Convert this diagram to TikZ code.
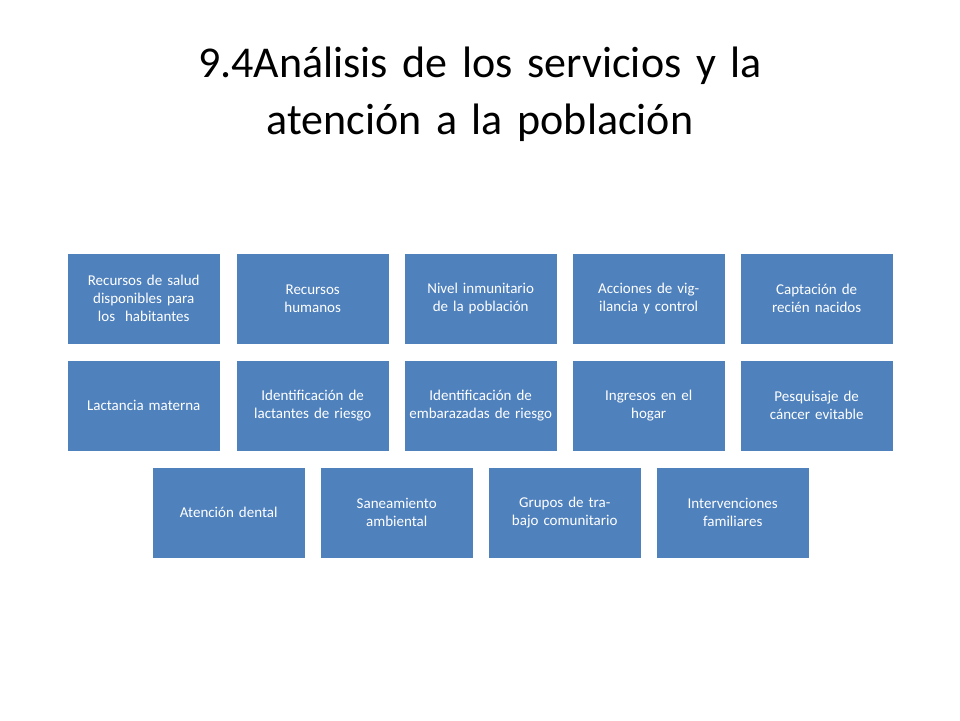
\documentclass[tikz,border=0pt]{standalone}
\usepackage{fontspec}
\setmainfont{Carlito}
\begin{document}
\begin{tikzpicture}[x=1pt,y=-1pt,
  cell/.style={fill=boxblue,draw=boxblue,minimum width=151pt,minimum height=89pt,
    text width=146pt,align=center,text=white,font=\fontsize{15}{18}\selectfont,anchor=north west,inner sep=2pt}]
\definecolor{boxblue}{HTML}{4F81BD}
\useasboundingbox (0,0) rectangle (960,720);
\node[font=\fontsize{44}{57}\selectfont,align=center,text width=900pt] (title) at (480,94) {9.4Análisis de los servicios y la\\atención a la población};
\node[cell] (a1) at (68,254) {Recursos de salud disponibles para los\ \ habitantes};
\node[cell] (a2) at (237,254) {Recursos\\humanos};
\node[cell] (a3) at (405,254) {Nivel inmunitario de la población};
\node[cell] (a4) at (573,254) {Acciones de vigilancia y control};
\node[cell] (a5) at (741,254) {Captación de\\recién nacidos};
\node[cell] (b1) at (68,361) {Lactancia materna};
\node[cell] (b2) at (237,361) {Identificación de lactantes de riesgo};
\node[cell] (b3) at (405,361) {Identificación de embarazadas de riesgo};
\node[cell] (b4) at (573,361) {Ingresos en el\\hogar};
\node[cell] (b5) at (741,361) {Pesquisaje de\\cáncer evitable};
\node[cell] (c1) at (153,468) {Atención dental};
\node[cell] (c2) at (321,468) {Saneamiento\\ambiental};
\node[cell] (c3) at (489,468) {Grupos de trabajo comunitario};
\node[cell] (c4) at (657,468) {Intervenciones\\familiares};
\end{tikzpicture}
\end{document}
